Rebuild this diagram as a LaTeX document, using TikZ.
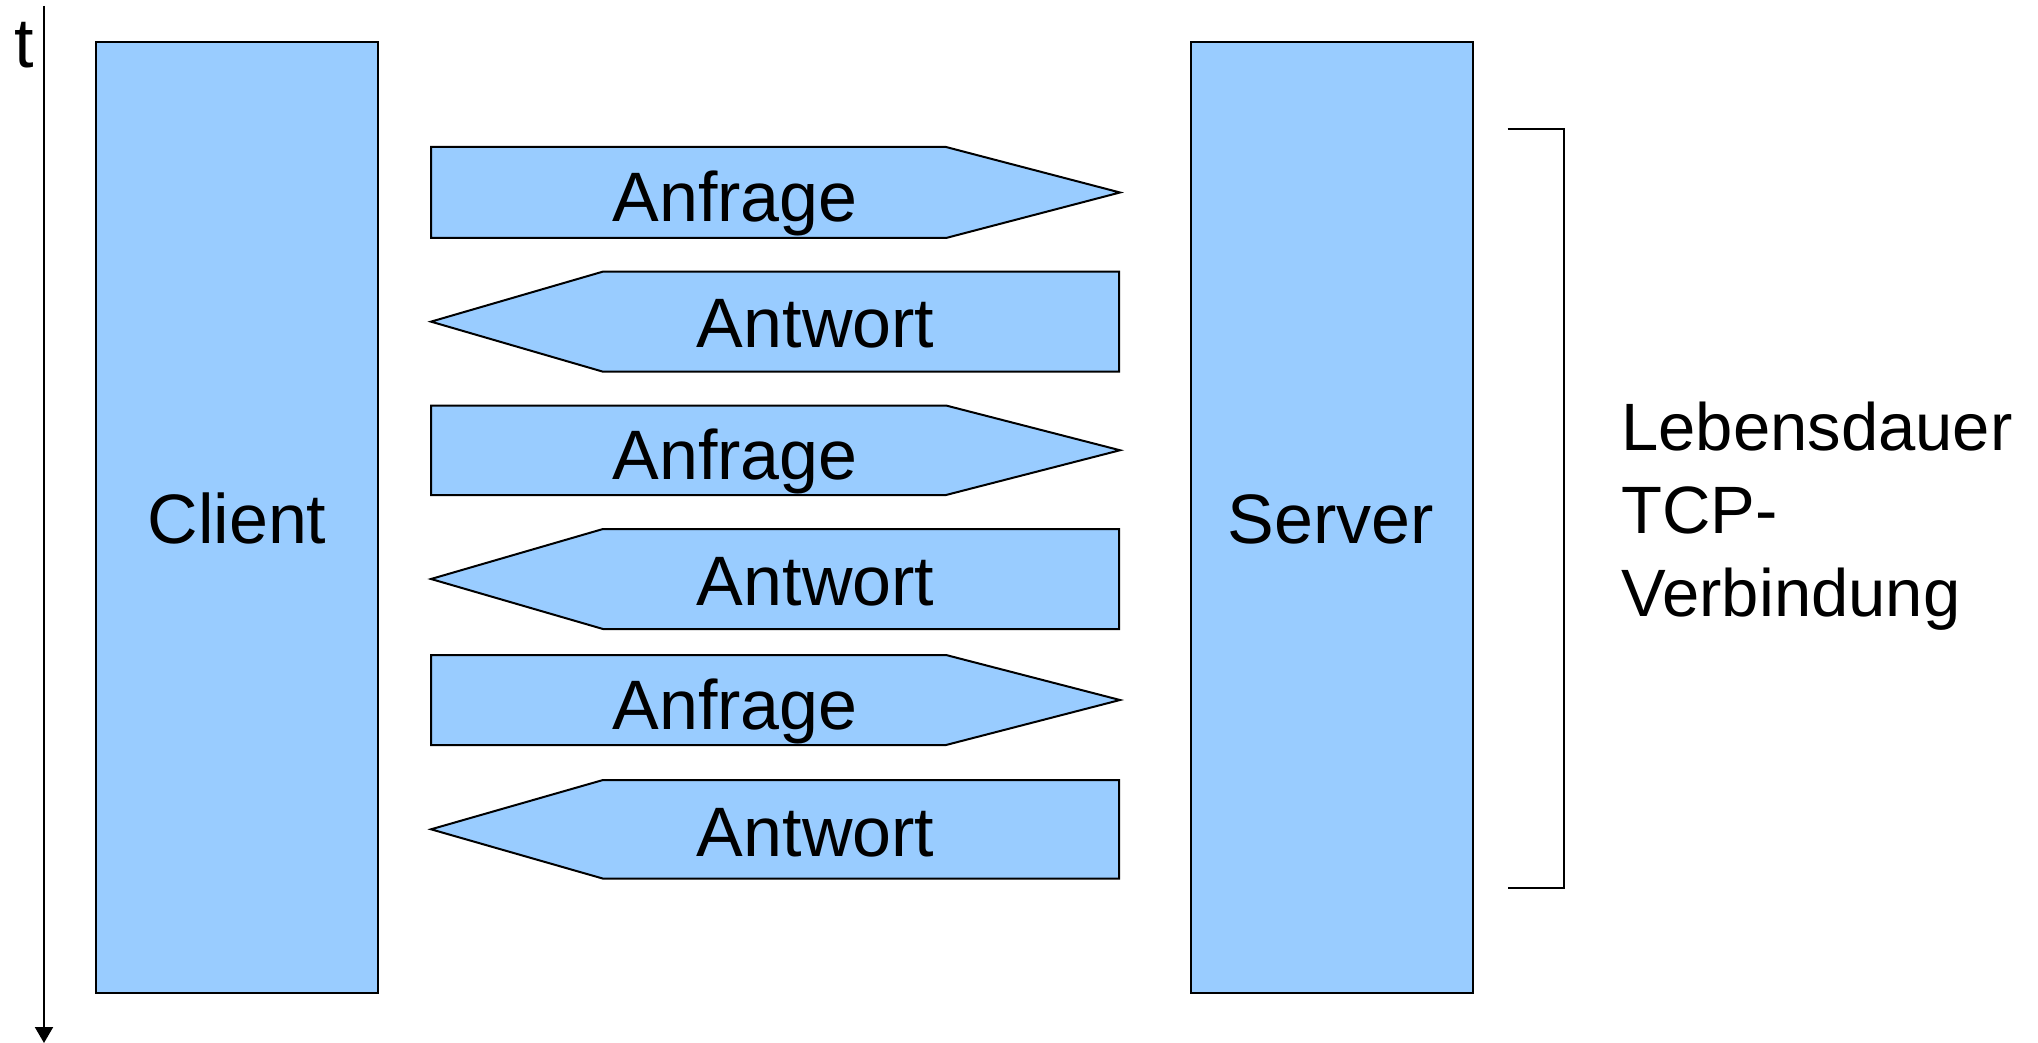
\documentclass[tikz,border=0pt]{standalone}
\usepackage{fontspec}
\setmainfont{Liberation Sans}
\usetikzlibrary{arrows.meta}
\definecolor{boxblue}{HTML}{99CCFF}
\tikzset{
  box/.style={draw=black, line width=1pt, fill=boxblue},
  lbl/.style={font=\fontsize{35}{40}\selectfont, anchor=base, inner sep=0pt},
  side/.style={font=\fontsize{33.5}{41.5}\selectfont, anchor=north west, align=left, inner sep=0pt},
}
\begin{document}
\begin{tikzpicture}[x=0.5pt, y=-0.5pt]
\useasboundingbox (0,0) rectangle (2038,1043);

% time axis
\coordinate (ttop) at (44,6);
\coordinate (tbot) at (44,1043);
\draw[line width=1pt, -{Triangle[width=9pt,length=8pt]}] (ttop) -- (tbot);
\node[lbl] (tlabel) at (24,68) {t};

% client and server bars
\draw[box] (96,41.6) rectangle (378,993);
\node[lbl] (client) at (237,543) {Client};
\draw[box] (1190.5,41.6) rectangle (1472.6,993);
\node[lbl] (server) at (1331,543) {Server};

% requests (pointing right)
\foreach \t/\b/\n in {147/238/1, 405.5/495/2, 655/745/3}{
  \draw[box] (431,\t) -- (946,\t) -- (1120,{(\t+\b)/2}) -- (946,\b) -- (431,\b) -- cycle;
  \node[lbl] (req\n) at (735,\t+74) {Anfrage};
}

% responses (pointing left)
\foreach \t/\b/\n in {271.6/371.7/1, 529/629/2, 780/878.6/3}{
  \draw[box] (1119,\t) -- (603,\t) -- (431,{(\t+\b)/2}) -- (603,\b) -- (1119,\b) -- cycle;
  \node[lbl] (resp\n) at (815.6,\t+76) {Antwort};
}

% lifetime bracket
\coordinate (btop) at (1507.6,128.7);
\coordinate (bbot) at (1507.6,887.7);
\draw[line width=1pt] (btop) -- (1563.5,128.7) -- (1563.5,887.7) -- (bbot);
\node[side] (life) at (1621,402) {Lebensdauer\\TCP-\\Verbindung};
\end{tikzpicture}
\end{document}
